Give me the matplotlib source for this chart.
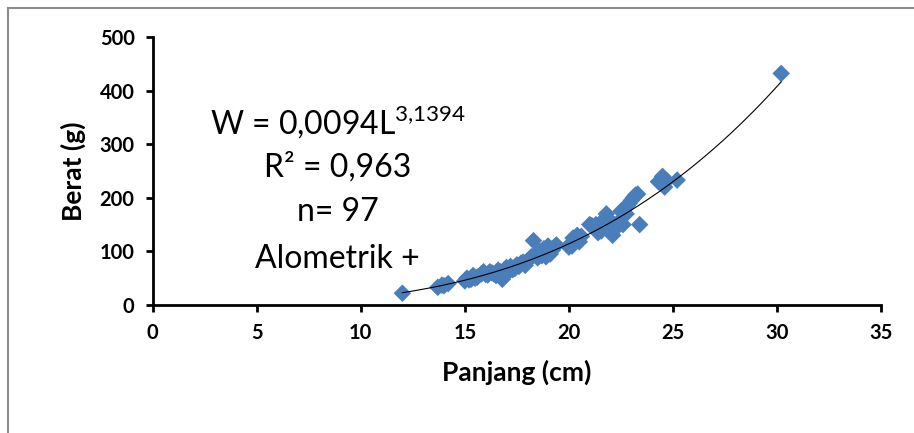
import numpy as np
import matplotlib
matplotlib.use("Agg")
from matplotlib import pyplot as plt
from matplotlib.lines import Line2D

# Panjang (cm) and Berat (g)
panjang = [12.0, 13.7, 13.9, 14.2, 14.0,
           15.0, 15.1, 15.3, 15.4, 15.6, 15.8, 15.9, 16.1, 16.3, 16.4, 16.6,
           16.8, 16.9, 17.0, 17.1, 17.2, 17.4, 17.5, 17.7, 17.8, 17.9,
           18.1, 18.2, 18.3, 18.4, 18.5, 18.6, 18.7, 18.8, 18.9, 19.0, 19.1, 19.2, 19.3,
           20.0, 20.1, 20.2, 20.3, 20.4, 20.5, 20.6,
           21.0, 21.2, 21.4, 21.5, 21.6, 21.8, 21.9, 22.0, 22.1, 22.2, 22.3,
           22.5, 22.6, 22.7, 22.8, 22.9, 23.0, 23.1, 23.3, 23.4,
           24.3, 24.5, 24.6, 24.7, 25.2, 30.2,
           15.2, 15.5, 16.0, 16.2, 16.5, 17.3, 17.6, 18.0, 18.45, 18.9, 19.05,
           19.4, 20.15, 20.35, 21.1, 21.3, 21.7, 22.05, 22.4, 22.75, 23.2,
           16.7, 17.0, 19.15, 21.55]
berat = [22, 33, 37, 40, 36,
         45, 50, 48, 55, 52, 58, 62, 56, 60, 58, 65,
         48, 60, 70, 65, 72, 68, 75, 78, 80, 74,
         85, 90, 120, 95, 88, 100, 92, 105, 98, 110, 95, 102, 108,
         108, 115, 125, 120, 130, 118, 128,
         150, 145, 135, 140, 155, 170, 160, 140, 130, 150, 145,
         175, 150, 180, 185, 190, 195, 200, 207, 150,
         230, 240, 220, 232, 233, 432,
         47, 50, 57, 62, 55, 66, 72, 82, 93, 90, 100,
         112, 110, 126, 148, 150, 160, 135, 155, 170, 205,
         62, 58, 104, 138]

# trendline from the equation printed on the chart
a, b = 0.0094, 3.1394
lines = ["W = 0,0094L$^{3{,}1394}$", "R² = 0,963", "n= 97", "Alometrik +"]

plt.rcParams['font.family'] = ['Lato', 'DejaVu Sans']
plt.rcParams['mathtext.fontset'] = 'custom'
plt.rcParams['mathtext.rm'] = 'Lato'

fig = plt.figure(figsize=(9.14, 4.33), dpi=100)
ax = fig.add_axes([0.167, 0.2956, 0.797, 0.619])

ax.scatter(panjang, berat, marker='D', s=80, color='#4a7ebb', edgecolors='none', zorder=2)
xs = np.linspace(min(panjang), max(panjang), 200)
ax.plot(xs, a * xs ** b, color='black', linewidth=0.8, zorder=3)

ax.set_xlim(0, 35)
ax.set_ylim(0, 500)
ax.set_xticks(np.arange(0, 36, 5))
ax.set_yticks(np.arange(0, 501, 100))
for s in ['top', 'right']:
    ax.spines[s].set_visible(False)
for s in ['left', 'bottom']:
    ax.spines[s].set_linewidth(2)
ax.tick_params(direction='out', length=5, width=2, labelsize=14.5, pad=8)
for lab in ax.get_xticklabels() + ax.get_yticklabels():
    lab.set_fontweight('bold')

ax.set_xlabel('Panjang (cm)', fontsize=19, fontweight='bold', labelpad=12)
ax.set_ylabel('Berat (g)', fontsize=19, fontweight='bold', labelpad=10)

ys = [341, 256, 173, 86]
for txt, yv in zip(lines, ys):
    ax.text(8.9, yv, txt, ha='center', va='center', fontsize=23)

# grey frame pieces on the left and top of the image
fig.add_artist(Line2D([8 / 914, 8 / 914], [0, 1 - 8 / 433], color='#8c8c8c', linewidth=1.5))
fig.add_artist(Line2D([8 / 914, 1], [1 - 8 / 433, 1 - 8 / 433], color='#8c8c8c', linewidth=1.5))

fig.savefig('out.png', dpi=100)
